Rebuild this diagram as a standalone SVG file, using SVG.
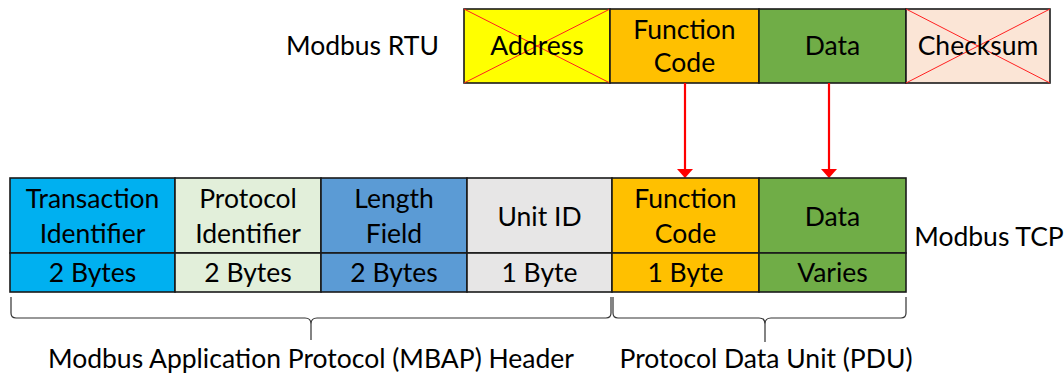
<svg xmlns="http://www.w3.org/2000/svg" width="1064" height="377" viewBox="0 0 1064 377">
<style>
.box{stroke:#1a1a1a;stroke-width:1.6}
.t{font-family:Lato,"Open Sans",sans-serif;font-size:26.5px;fill:#000;text-anchor:middle;dominant-baseline:central}
.x{stroke:#ff2020;stroke-width:1}
.brace{fill:none;stroke:#333;stroke-width:1.2}
.arr{stroke:#ff0000;stroke-width:2.2;fill:none;marker-end:url(#ah)}
</style>
<defs>
<marker id="ah" viewBox="0 0 9 16" refX="8" refY="8" markerWidth="9" markerHeight="16" orient="auto" markerUnits="userSpaceOnUse">
<path d="M0,0 L9,8 L0,16 z" fill="#ff0000"/>
</marker>
</defs>
<rect width="1064" height="377" fill="#fff"/>
<text class="t" x="439" y="45" style="text-anchor:end">Modbus RTU</text>
<g id="rtu-address"><rect class="box" x="464" y="9" width="146" height="74" fill="#ffff00"/><line class="x" x1="464" y1="9" x2="610" y2="83"/><line class="x" x1="610" y1="9" x2="464" y2="83"/><text class="t" x="537" y="45">Address</text></g>
<g id="rtu-fc"><rect class="box" x="610" y="9" width="149" height="74" fill="#ffc000"/><text class="t" x="684.5" y="29">Function</text><text class="t" x="684.5" y="62">Code</text></g>
<g id="rtu-data"><rect class="box" x="759" y="9" width="147" height="74" fill="#70ad47"/><text class="t" x="832.5" y="45">Data</text></g>
<g id="rtu-checksum"><rect class="box" x="906" y="9" width="144" height="74" fill="#fbe5d6"/><line class="x" x1="906" y1="9" x2="1050" y2="83"/><line class="x" x1="1050" y1="9" x2="906" y2="83"/><text class="t" x="978" y="45">Checksum</text></g>
<g id="connectors"><line class="arr" x1="685" y1="83" x2="685" y2="177"/><line class="arr" x1="829" y1="83" x2="829" y2="177"/></g>
<g id="tcp-transaction"><rect class="box" x="10" y="178" width="165" height="75" fill="#00b0f0"/><rect class="box" x="10" y="253" width="165" height="39" fill="#00b0f0"/><text class="t" x="92.5" y="198">Transaction</text><text class="t" x="92.5" y="233">Identifier</text><text class="t" x="92.5" y="272">2 Bytes</text></g>
<g id="tcp-protocol"><rect class="box" x="175" y="178" width="146" height="75" fill="#e2efda"/><rect class="box" x="175" y="253" width="146" height="39" fill="#e2efda"/><text class="t" x="248" y="198">Protocol</text><text class="t" x="248" y="233">Identifier</text><text class="t" x="248" y="272">2 Bytes</text></g>
<g id="tcp-length"><rect class="box" x="321" y="178" width="146" height="75" fill="#5b9bd5"/><rect class="box" x="321" y="253" width="146" height="39" fill="#5b9bd5"/><text class="t" x="394" y="198">Length</text><text class="t" x="394" y="233">Field</text><text class="t" x="394" y="272">2 Bytes</text></g>
<g id="tcp-unitid"><rect class="box" x="467" y="178" width="145" height="75" fill="#e7e6e6"/><rect class="box" x="467" y="253" width="145" height="39" fill="#e7e6e6"/><text class="t" x="539.5" y="216">Unit ID</text><text class="t" x="539.5" y="272">1 Byte</text></g>
<g id="tcp-fc"><rect class="box" x="612" y="178" width="147" height="75" fill="#ffc000"/><rect class="box" x="612" y="253" width="147" height="39" fill="#ffc000"/><text class="t" x="685.5" y="198">Function</text><text class="t" x="685.5" y="233">Code</text><text class="t" x="685.5" y="272">1 Byte</text></g>
<g id="tcp-data"><rect class="box" x="759" y="178" width="147" height="75" fill="#70ad47"/><rect class="box" x="759" y="253" width="147" height="39" fill="#70ad47"/><text class="t" x="832.5" y="216">Data</text><text class="t" x="832.5" y="272">Varies</text></g>
<text class="t" x="989" y="236">Modbus TCP</text>
<g id="mbap-brace"><path class="brace" d="M11,297 L11,313 Q11,318 16,318 L305,318 Q311,318 311,324 L311,340 M311,324 Q311,318 317,318 L606,318 Q611,318 611,313 L611,297"/><text class="t" x="311" y="358">Modbus Application Protocol (MBAP) Header</text></g>
<g id="pdu-brace"><path class="brace" d="M613,297 L613,313 Q613,318 618,318 L759,318 Q765,318 765,324 L765,342 M765,324 Q765,318 771,318 L901,318 Q906,318 906,313 L906,297"/><text class="t" x="766" y="358">Protocol Data Unit (PDU)</text></g>
</svg>
